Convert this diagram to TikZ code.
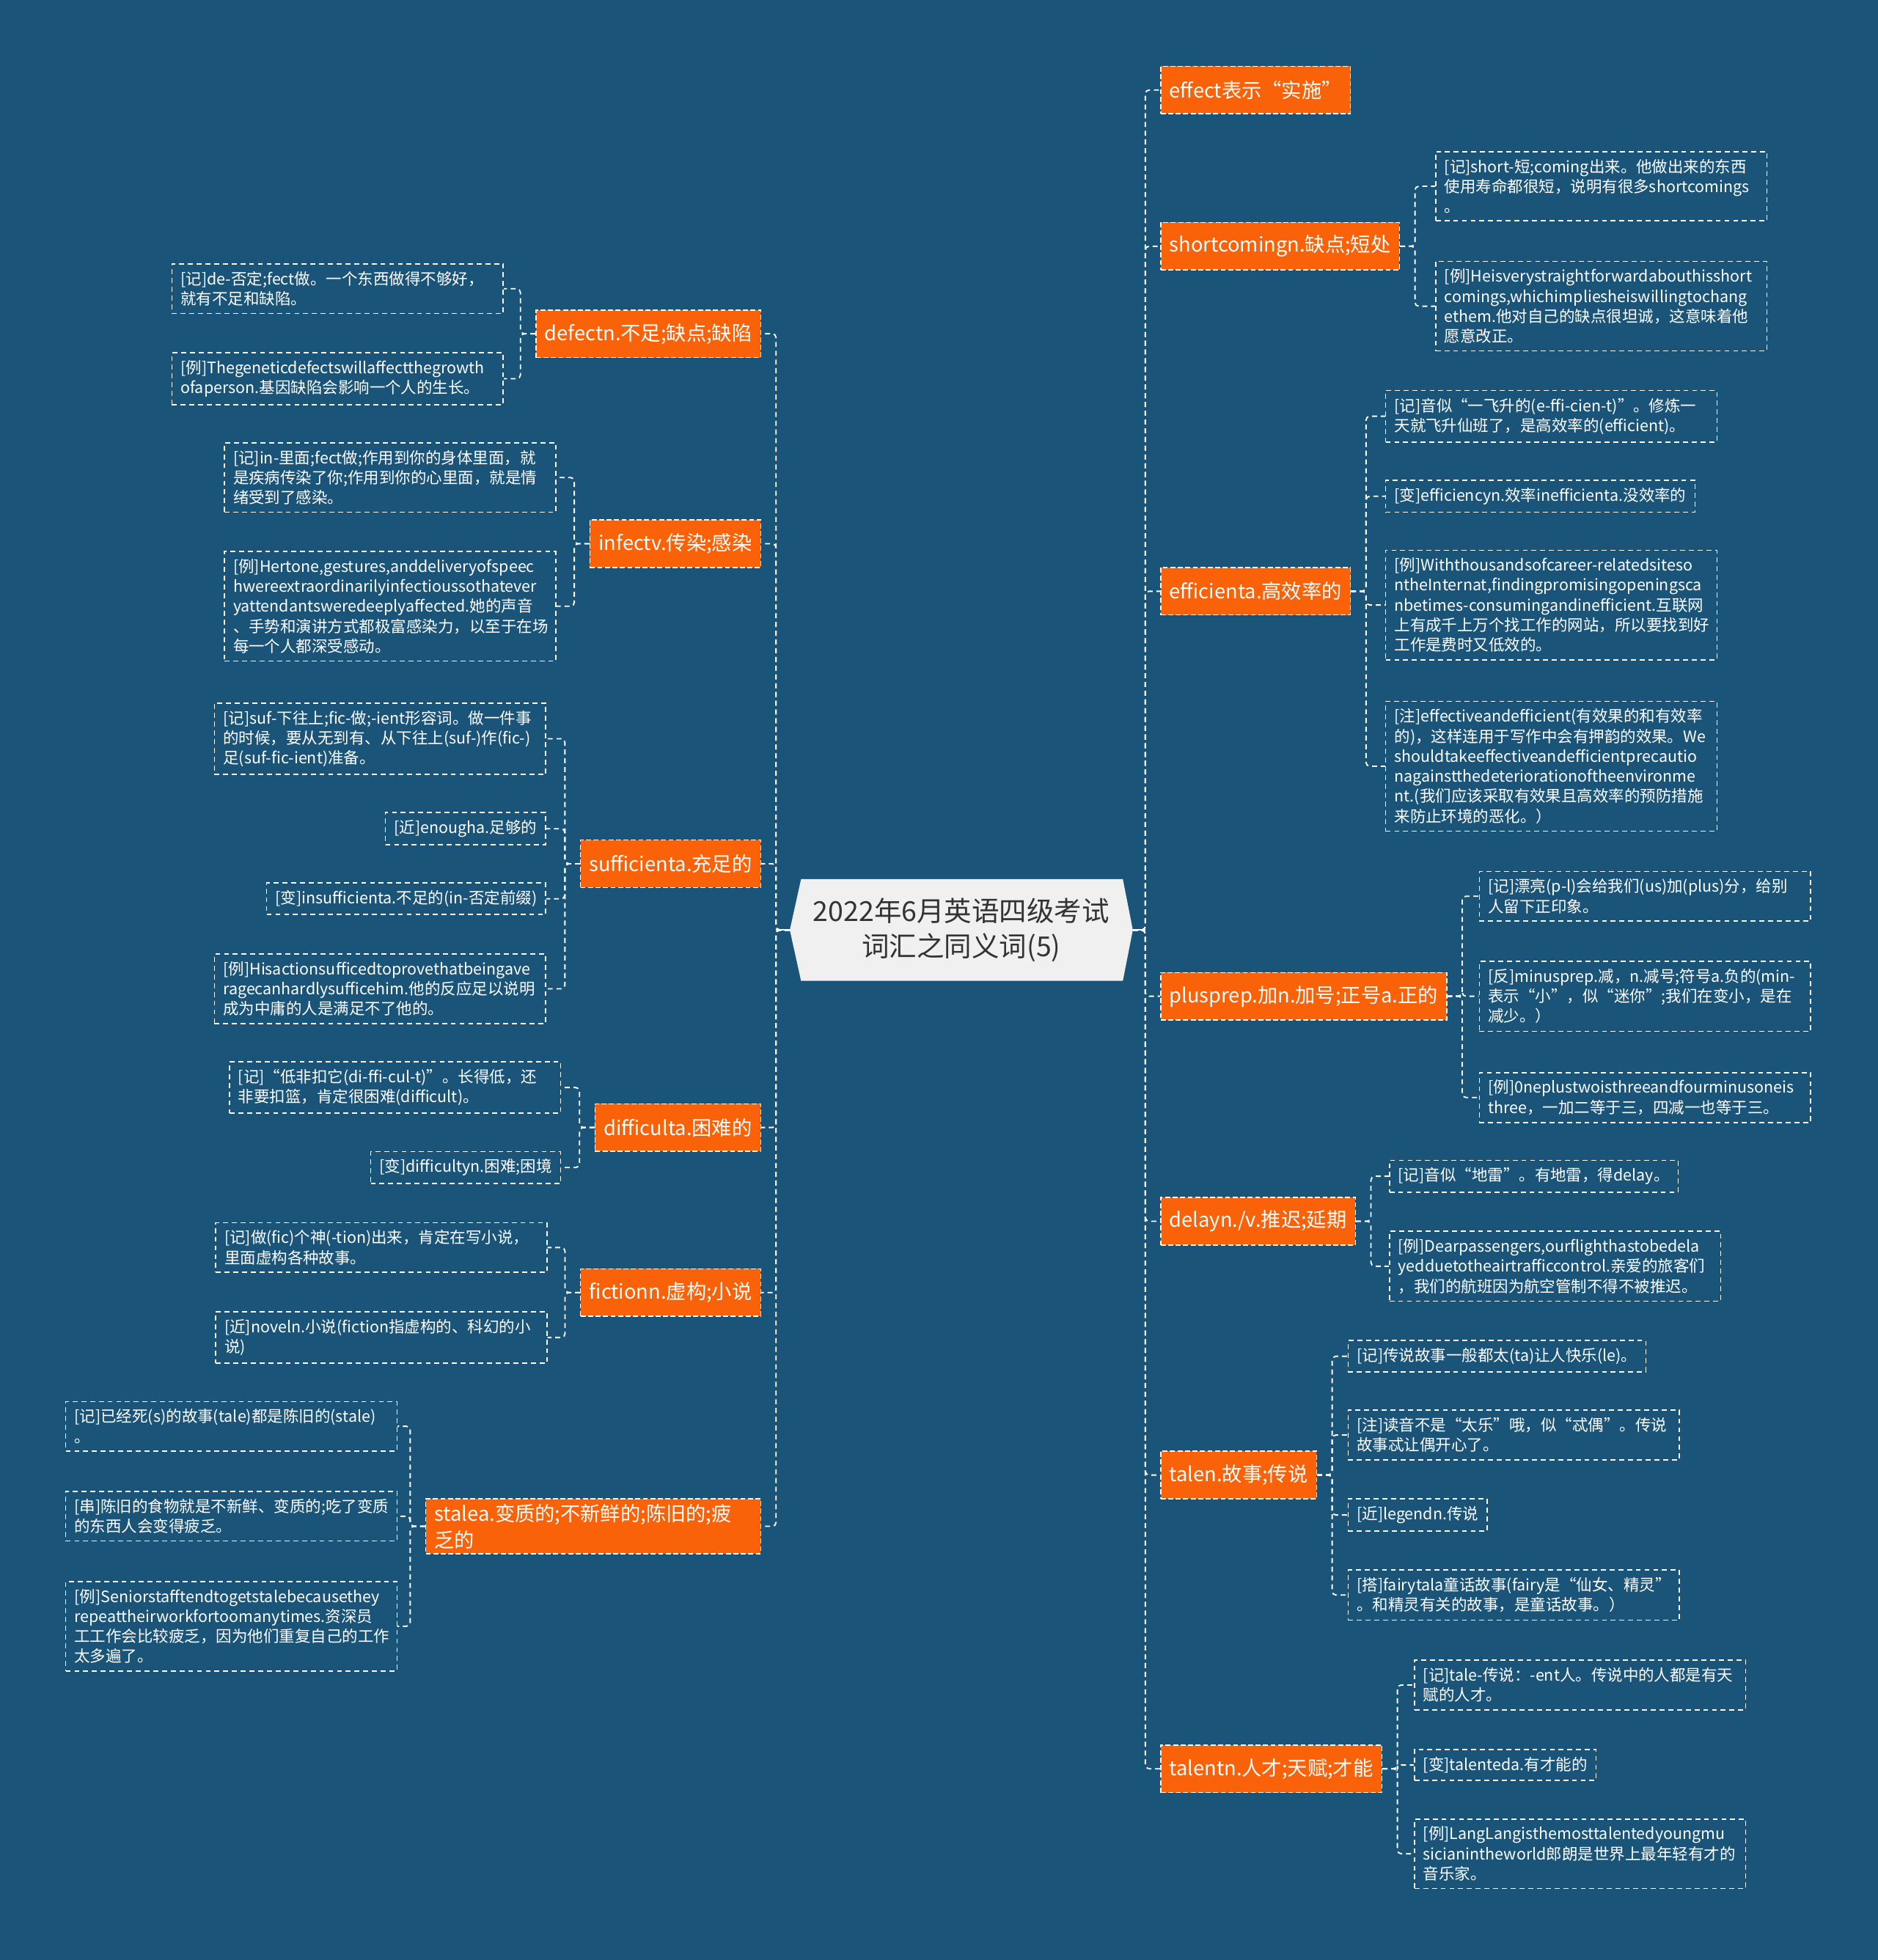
\documentclass[tikz,border=0pt]{standalone}
\usepackage{fontspec}
\setmainfont{Noto Sans CJK SC}
\usetikzlibrary{backgrounds}
\hyphenpenalty=10000
\exhyphenpenalty=10000

\begin{document}
\begin{tikzpicture}[x=1pt,y=-1pt,
  link/.style={draw=white,line width=1.1pt,dash pattern=on 4pt off 3pt,rounded corners=3pt},
  topic/.style={fill=topiccol,draw=white,line width=0.9pt,dash pattern=on 4pt off 2pt,
    text=white,font=\fontsize{16}{21}\selectfont,inner xsep=7pt,inner ysep=4pt,
    minimum height=38pt,align=left},
  leaf/.style={draw=white,line width=0.9pt,dash pattern=on 4pt off 3pt,text=white,
    font=\fontsize{12.6}{16}\selectfont,inner xsep=7pt,inner ysep=6pt,align=left},
  wide/.style={leaf,text width=251pt}]

  \definecolor{bgcol}{RGB}{26,84,120}
  \definecolor{topiccol}{RGB}{249,98,9}
  \definecolor{rootcol}{RGB}{240,240,240}
  \definecolor{roottext}{RGB}{51,51,51}

  \useasboundingbox (0,0) rectangle (1502,1568);

  \node[minimum width=274pt,minimum height=81pt,align=center,text=roottext,
    font=\fontsize{22}{28}\selectfont] (root) at (769,744)
    {2022年6月英语四级考试\\词汇之同义词(5)};

  \begin{scope}[on background layer]
    \fill[bgcol] (0,0) rectangle (1502,1568);
    \fill[rootcol] ([xshift=9pt]root.north west) -- ([xshift=-8pt]root.north east)
      -- (root.east) -- ([xshift=-8pt]root.south east)
      -- ([xshift=9pt]root.south west) -- (root.west) -- cycle;
  \end{scope}

  % left side
  \node[topic,anchor=east] (defect) at (609,267) {defectn.不足;缺点;缺陷};
  \node[topic,anchor=east] (infect) at (609,435) {infectv.传染;感染};
  \node[topic,anchor=east] (suff) at (609,691) {sufficienta.充足的};
  \node[topic,anchor=east] (diff) at (609,902) {difficulta.困难的};
  \node[topic,anchor=east] (fiction) at (609,1034) {fictionn.虚构;小说};
  \node[topic,anchor=east,text width=254pt] (stale) at (609,1221) {stalea.变质的;不新鲜的;陈旧的;疲\\乏的};

  % right side
  \node[topic,anchor=west] (effect) at (928,72) {effect表示“实施”};
  \node[topic,anchor=west] (short) at (928,197) {shortcomingn.缺点;短处};
  \node[topic,anchor=west] (effic) at (928,473) {efficienta.高效率的};
  \node[topic,anchor=west] (plus) at (928,797) {plusprep.加n.加号;正号a.正的};
  \node[topic,anchor=west] (delay) at (928,977) {delayn./v.推迟;延期};
  \node[topic,anchor=west] (tale) at (928,1180) {talen.故事;传说};
  \node[topic,anchor=west] (talent) at (928,1415) {talentn.人才;天赋;才能};

  \draw[white,line width=1.1pt] (root.west) -- ++(-11,0);
  \draw[white,line width=1.1pt] (root.east) -- ++(10,0);
  \draw[link] (root.west) -- ++(-11,0) |- (defect.east);
  \draw[link] (root.west) -- ++(-11,0) |- (infect.east);
  \draw[link] (root.west) -- ++(-11,0) |- (suff.east);
  \draw[link] (root.west) -- ++(-11,0) |- (diff.east);
  \draw[link] (root.west) -- ++(-11,0) |- (fiction.east);
  \draw[link] (root.west) -- ++(-11,0) |- (stale.east);
  \draw[link] (root.east) -- ++(10,0) |- (effect.west);
  \draw[link] (root.east) -- ++(10,0) |- (short.west);
  \draw[link] (root.east) -- ++(10,0) |- (effic.west);
  \draw[link] (root.east) -- ++(10,0) |- (plus.west);
  \draw[link] (root.east) -- ++(10,0) |- (delay.west);
  \draw[link] (root.east) -- ++(10,0) |- (tale.west);
  \draw[link] (root.east) -- ++(10,0) |- (talent.west);

  % defect
  \node[wide,anchor=east] (defect1) at (403,231) {[记]de-否定;fect做。一个东西做得不够好，\\就有不足和缺陷。};
  \node[wide,anchor=east] (defect2) at (403,303) {[例]Thegeneticdefectswillaffectthegrowth\\ofaperson.基因缺陷会影响一个人的生长。};
  \draw[link] (defect.west) -- ++(-12,0) |- (defect1.east);
  \draw[link] (defect.west) -- ++(-12,0) |- (defect2.east);

  % infect
  \node[wide,anchor=east] (infect1) at (445,382) {[记]in-里面;fect做;作用到你的身体里面，就\\是疾病传染了你;作用到你的心里面，就是情\\绪受到了感染。};
  \node[wide,anchor=east] (infect2) at (445,485) {[例]Hertone,gestures,anddeliveryofspeec\\hwereextraordinarilyinfectioussothatever\\yattendantsweredeeplyaffected.她的声音\\、手势和演讲方式都极富感染力，以至于在场\\每一个人都深受感动。};
  \draw[link] (infect.west) -- ++(-12,0) |- (infect1.east);
  \draw[link] (infect.west) -- ++(-12,0) |- (infect2.east);

  % sufficient
  \node[wide,anchor=east] (suff1) at (437,591) {[记]suf-下往上;fic-做;-ient形容词。做一件事\\的时候，要从无到有、从下往上(suf-)作(fic-)\\足(suf-fic-ient)准备。};
  \node[leaf,anchor=east] (suff2) at (437,663) {[近]enougha.足够的};
  \node[leaf,anchor=east] (suff3) at (437,719) {[变]insufficienta.不足的(in-否定前缀)};
  \node[wide,anchor=east] (suff4) at (437,791) {[例]Hisactionsufficedtoprovethatbeingave\\ragecanhardlysufficehim.他的反应足以说明\\成为中庸的人是满足不了他的。};
  \draw[link] (suff.west) -- ++(-12,0) |- (suff1.east);
  \draw[link] (suff.west) -- ++(-12,0) |- (suff2.east);
  \draw[link] (suff.west) -- ++(-12,0) |- (suff3.east);
  \draw[link] (suff.west) -- ++(-12,0) |- (suff4.east);

  % difficult
  \node[wide,anchor=east] (diff1) at (449,870) {[记]“低非扣它(di-ffi-cul-t)”。长得低，还\\非要扣篮，肯定很困难(difficult)。};
  \node[leaf,anchor=east] (diff2) at (449,934) {[变]difficultyn.困难;困境};
  \draw[link] (diff.west) -- ++(-12,0) |- (diff1.east);
  \draw[link] (diff.west) -- ++(-12,0) |- (diff2.east);

  % fiction
  \node[wide,anchor=east] (fiction1) at (438,998) {[记]做(fic)个神(-tion)出来，肯定在写小说，\\里面虚构各种故事。};
  \node[wide,anchor=east] (fiction2) at (438,1070) {[近]noveln.小说(fiction指虚构的、科幻的小\\说)};
  \draw[link] (fiction.west) -- ++(-12,0) |- (fiction1.east);
  \draw[link] (fiction.west) -- ++(-12,0) |- (fiction2.east);

  % stale
  \node[wide,anchor=east] (stale1) at (318,1141) {[记]已经死(s)的故事(tale)都是陈旧的(stale)\\。};
  \node[wide,anchor=east] (stale2) at (318,1213) {[串]陈旧的食物就是不新鲜、变质的;吃了变质\\的东西人会变得疲乏。};
  \node[wide,anchor=east] (stale3) at (318,1301) {[例]Seniorstafftendtogetstalebecausethey\\repeattheirworkfortoomanytimes.资深员\\工工作会比较疲乏，因为他们重复自己的工作\\太多遍了。};
  \draw[link] (stale.west) -- ++(-12,0) |- (stale1.east);
  \draw[link] (stale.west) -- ++(-12,0) |- (stale2.east);
  \draw[link] (stale.west) -- ++(-12,0) |- (stale3.east);

  % shortcoming
  \node[wide,anchor=west] (short1) at (1148,149) {[记]short-短;coming出来。他做出来的东西\\使用寿命都很短，说明有很多shortcomings\\。};
  \node[wide,anchor=west] (short2) at (1148,245) {[例]Heisverystraightforwardabouthisshort\\comings,whichimpliesheiswillingtochang\\ethem.他对自己的缺点很坦诚，这意味着他\\愿意改正。};
  \draw[link] (short.east) -- ++(12,0) |- (short1.west);
  \draw[link] (short.east) -- ++(12,0) |- (short2.west);

  % efficient
  \node[wide,anchor=west] (effic1) at (1108,333) {[记]音似“一飞升的(e-ffi-cien-t)”。修炼一\\天就飞升仙班了，是高效率的(efficient)。};
  \node[leaf,anchor=west] (effic2) at (1108,397) {[变]efficiencyn.效率inefficienta.没效率的};
  \node[wide,anchor=west] (effic3) at (1108,484) {[例]Withthousandsofcareer-relatedsiteso\\ntheInternat,findingpromisingopeningsca\\nbetimes-consumingandinefficient.互联网\\上有成千上万个找工作的网站，所以要找到好\\工作是费时又低效的。};
  \node[wide,anchor=west] (effic4) at (1108,613) {[注]effectiveandefficient(有效果的和有效率\\的)，这样连用于写作中会有押韵的效果。We\\shouldtakeeffectiveandefficientprecautio\\nagainstthedeteriorationoftheenvironme\\nt.(我们应该采取有效果且高效率的预防措施\\来防止环境的恶化。）};
  \draw[link] (effic.east) -- ++(12,0) |- (effic1.west);
  \draw[link] (effic.east) -- ++(12,0) |- (effic2.west);
  \draw[link] (effic.east) -- ++(12,0) |- (effic3.west);
  \draw[link] (effic.east) -- ++(12,0) |- (effic4.west);

  % plus
  \node[wide,anchor=west] (plus1) at (1183,717) {[记]漂亮(p-l)会给我们(us)加(plus)分，给别\\人留下正印象。};
  \node[wide,anchor=west] (plus2) at (1183,797) {[反]minusprep.减，n.减号;符号a.负的(min-\\表示“小”，似“迷你”;我们在变小，是在\\减少。）};
  \node[wide,anchor=west] (plus3) at (1183,878) {[例]0neplustwoisthreeandfourminusoneis\\three，一加二等于三，四减一也等于三。};
  \draw[link] (plus.east) -- ++(12,0) |- (plus1.west);
  \draw[link] (plus.east) -- ++(12,0) |- (plus2.west);
  \draw[link] (plus.east) -- ++(12,0) |- (plus3.west);

  % delay
  \node[leaf,anchor=west] (delay1) at (1111,941) {[记]音似“地雷”。有地雷，得delay。};
  \node[wide,anchor=west] (delay2) at (1111,1013) {[例]Dearpassengers,ourflighthastobedela\\yedduetotheairtrafficcontrol.亲爱的旅客们\\，我们的航班因为航空管制不得不被推迟。};
  \draw[link] (delay.east) -- ++(12,0) |- (delay1.west);
  \draw[link] (delay.east) -- ++(12,0) |- (delay2.west);

  % tale
  \node[leaf,anchor=west] (tale1) at (1078,1085) {[记]传说故事一般都太(ta)让人快乐(le)。};
  \node[wide,anchor=west] (tale2) at (1078,1148) {[注]读音不是“太乐”哦，似“忒偶”。传说\\故事忒让偶开心了。};
  \node[leaf,anchor=west] (tale3) at (1078,1212) {[近]legendn.传说};
  \node[wide,anchor=west] (tale4) at (1078,1276) {[搭]fairytala童话故事(fairy是“仙女、精灵”\\。和精灵有关的故事，是童话故事。）};
  \draw[link] (tale.east) -- ++(12,0) |- (tale1.west);
  \draw[link] (tale.east) -- ++(12,0) |- (tale2.west);
  \draw[link] (tale.east) -- ++(12,0) |- (tale3.west);
  \draw[link] (tale.east) -- ++(12,0) |- (tale4.west);

  % talent
  \node[wide,anchor=west] (talent1) at (1131,1348) {[记]tale-传说：-ent人。传说中的人都是有天\\赋的人才。};
  \node[leaf,anchor=west] (talent2) at (1131,1412) {[变]talenteda.有才能的};
  \node[wide,anchor=west] (talent3) at (1131,1483) {[例]LangLangisthemosttalentedyoungmu\\sicianintheworld郎朗是世界上最年轻有才的\\音乐家。};
  \draw[link] (talent.east) -- ++(12,0) |- (talent1.west);
  \draw[link] (talent.east) -- ++(12,0) |- (talent2.west);
  \draw[link] (talent.east) -- ++(12,0) |- (talent3.west);

\end{tikzpicture}
\end{document}
